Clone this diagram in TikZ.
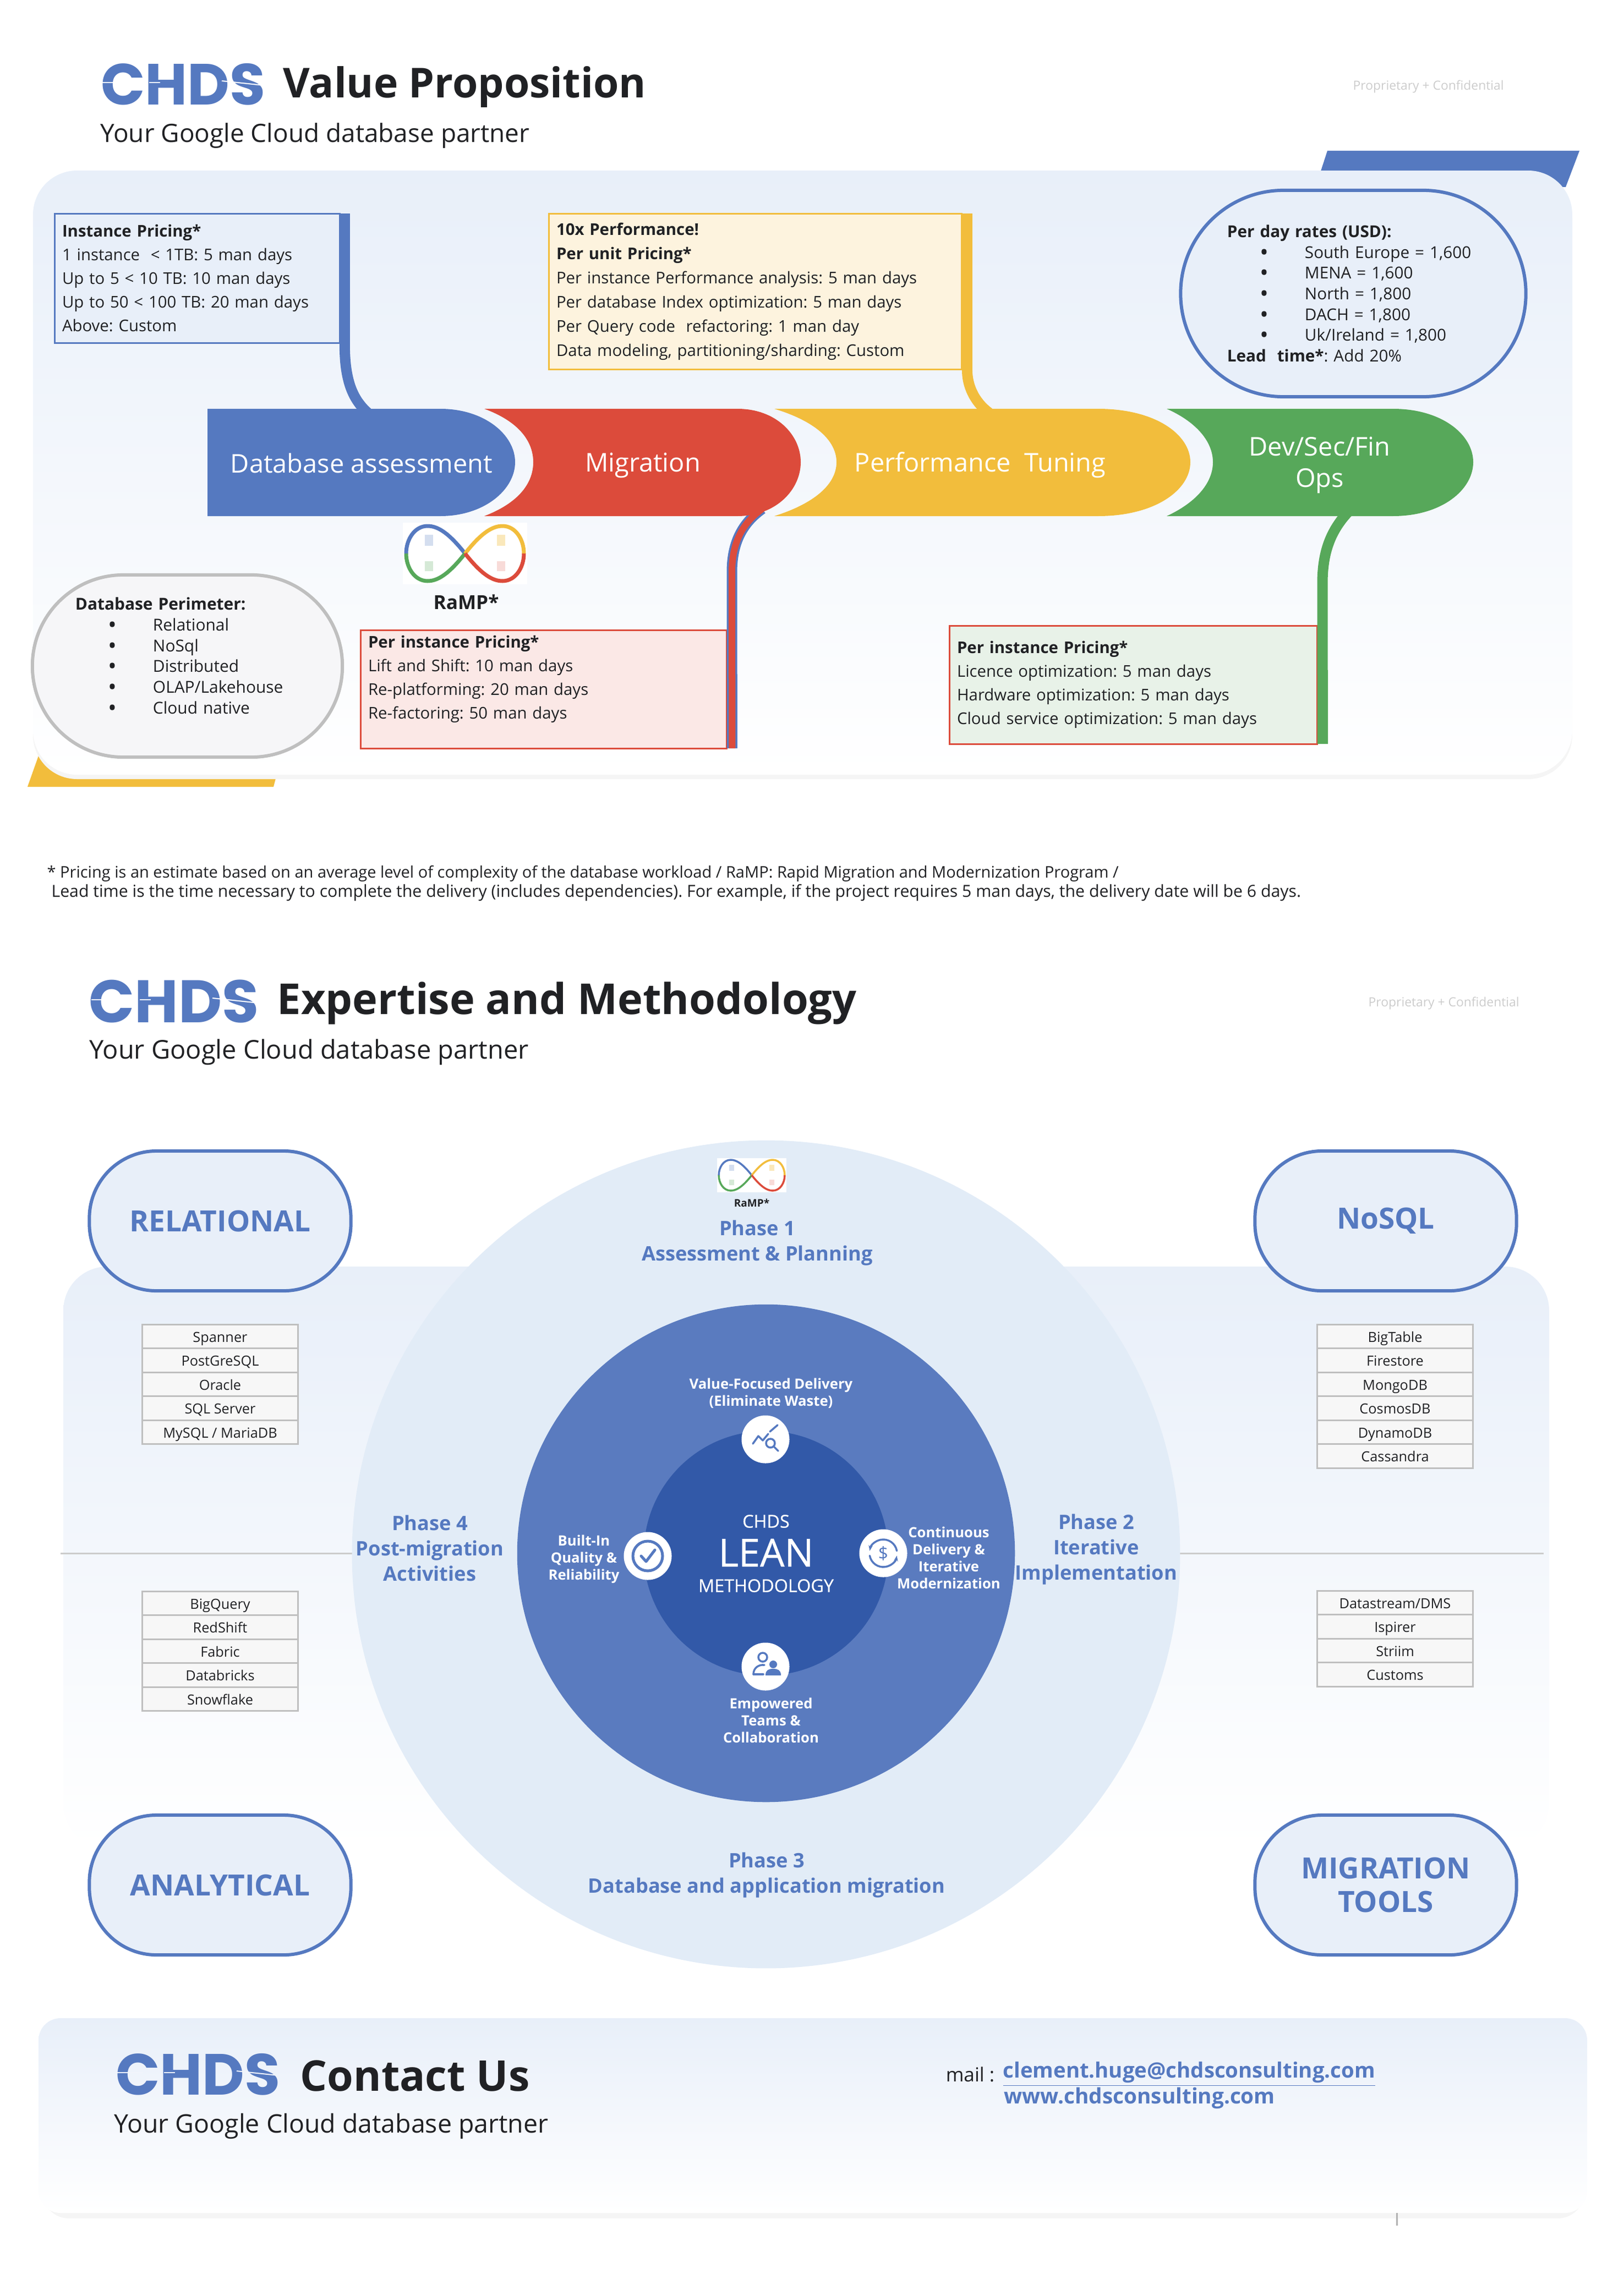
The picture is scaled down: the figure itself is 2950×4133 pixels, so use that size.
\documentclass[tikz,border=0pt]{standalone}
\usepackage{fontspec}
\setmainfont{Open Sans}
\newfontfamily\logofont{Poppins}
\newfontfamily\medfont[FakeBold=0.5]{Open Sans}
\usetikzlibrary{positioning,arrows.meta}
\definecolor{chblue}{HTML}{5579C0}
\definecolor{chred}{HTML}{DC4B3B}
\definecolor{chyellow}{HTML}{F2BD3C}
\definecolor{chgreen}{HTML}{57A85A}
\definecolor{inkdark}{HTML}{202124}
\definecolor{panelblue}{HTML}{E8EFF9}
\definecolor{perfill}{HTML}{FDF3DE}
\definecolor{migfill}{HTML}{FBE8E6}
\definecolor{devfill}{HTML}{E8F2E8}
\definecolor{perimfill}{HTML}{F6F6F8}
\definecolor{ringout}{HTML}{E2ECF7}
\definecolor{ringmid}{HTML}{5A7BBF}
\definecolor{ringin}{HTML}{3259A8}
\newcommand{\fs}[2]{\fontsize{#1}{#2}\selectfont}
\newcommand{\bul}[1]{\hspace*{.6cm}\makebox[.81cm][l]{\raisebox{-.25ex}{\fontsize{12}{10}\selectfont\textbullet}}#1}
\newcommand{\logocuts}[2]{%
  \draw[#2,line width=.02cm] ([shift={(-150,-3)}]#1.center) -- ++(50,0);
  \draw[#2,line width=.02cm] ([shift={(-62,-3)}]#1.center) -- ++(20,0);
  \draw[#2,line width=.02cm] ([shift={(70,-6)}]#1.center) -- ++(75,8);
}
\tikzset{
  panelshade/.style={top color=panelblue,bottom color=white,rounded corners=.8cm},
  logo/.style={font=\logofont\bfseries\fs{30}{30},text=chblue,inner sep=0},
  headline/.style={font=\bfseries\fs{#1}{#1},text=inkdark,inner sep=0,anchor=west},
  subline/.style={font=\fs{13.05}{15},text=inkdark,inner sep=0,anchor=west},
  conf/.style={font=\fs{6.5}{8},text=black!20,inner sep=0,anchor=west},
  pricebox/.style={anchor=north west,line width=.03cm,inner xsep=.14cm,inner ysep=0,outer sep=0,
    align=left,font=\fs{8.35}{12.2},text=inkdark},
  pill/.style={line width=.06cm,rounded corners=1.22cm,draw=chblue,fill=panelblue,
    minimum width=4.75cm,minimum height=2.54cm,align=center,text=chblue,inner sep=0,
    font=\bfseries\fs{15.1}{17.4}},
  tie/.style={line width=.19cm},
  chevtext/.style={text=white,font=\fs{13.35}{16.2},align=center,inner sep=0},
  cell/.style={draw=black!25,fill=black!3,line width=.03cm,minimum width=2.82cm,
    minimum height=.435cm,inner sep=0,font=\fs{7.2}{8},text=inkdark,text height=1.5ex,text depth=.4ex},
  phasetext/.style={text=chblue,font=\bfseries\fs{10.3}{13},align=center,inner sep=0},
  leantext/.style={text=white,font=\bfseries\fs{7.3}{8.8},align=center,inner sep=0},
  ico/.style={circle,fill=white,minimum size=.87cm,inner sep=0},
  icoline/.style={draw=chblue,line width=.035cm,line cap=round,line join=round},
  rampmark/.pic={
    \fill[white] (-113,-56) rectangle (113,56);
    \draw[chblue,line width=#1] (0,0) .. controls (-30,-38) and (-50,-50) .. (-68,-50)
      .. controls (-92,-50) and (-107,-25) .. (-107,0);
    \draw[chgreen,line width=#1] (-107,0) .. controls (-107,25) and (-92,50) .. (-68,50)
      .. controls (-50,50) and (-30,38) .. (0,0);
    \draw[chyellow,line width=#1] (0,0) .. controls (30,-38) and (50,-50) .. (68,-50)
      .. controls (92,-50) and (107,-25) .. (107,0);
    \draw[chred,line width=#1] (107,0) .. controls (107,25) and (92,50) .. (68,50)
      .. controls (50,50) and (30,38) .. (0,0);
    \fill[chblue!25] (-73,-34) rectangle (-58,-14);
    \fill[chgreen!25] (-73,14) rectangle (-58,32);
    \fill[chyellow!35] (58,-34) rectangle (73,-14);
    \fill[chred!20] (58,14) rectangle (73,32);
  },
}
\begin{document}
\frenchspacing
\begin{tikzpicture}[x=.01cm,y=-.01cm]
\useasboundingbox (0,0) rectangle (2950,4133);

% value proposition
\fill[chblue] (2397,320) -- (2412,274) -- (2870,274) -- (2845,340) -- cycle;
\fill[chyellow] (50,1430) -- (72,1368) -- (505,1400) -- (497,1430) -- cycle;
\fill[black!4,rounded corners=.8cm] (60,318) rectangle (2857,1416);
\shade[panelshade] (60,310) rectangle (2857,1408);

\node[logo] (logoA) at (333,153) {CHDS};
\logocuts{logoA}{white}
\node[headline=21.3] (titleA) at (514,158) {Value Proposition};
\node[subline] (subA) at (182,247) {Your Google Cloud database partner};
\node[conf] (confA) at (2458,158) {Proprietary + Confidential};

\node[pricebox,draw=chblue,fill=panelblue,minimum width=5.18cm,minimum height=2.35cm,text width=4.9cm] (inst) at (99,388)
  {\textbf{Instance Pricing*}\\1 instance\ \ < 1TB: 5 man days\\Up to 5 < 10 TB: 10 man days\\Up to 50 < 100 TB: 20 man days\\Above: Custom};
\node[pricebox,draw=chyellow,fill=perfill,minimum width=7.5cm,minimum height=2.83cm,text width=7.22cm,font=\fs{8.35}{12.5}] (perf) at (997,388)
  {\textbf{10x Performance!}\\\textbf{Per unit Pricing*}\\Per instance Performance analysis: 5 man days\\Per database Index optimization: 5 man days\\Per Query code\ \ refactoring: 1 man day\\Data modeling, partitioning/sharding: Custom};
\node[pricebox,draw=chred,fill=migfill,minimum width=6.65cm,minimum height=2.15cm,text width=6.37cm] (mig) at (655,1145)
  {\textbf{Per instance Pricing*}\\Lift and Shift: 10 man days\\Re-platforming: 20 man days\\Re-factoring: 50 man days\\ \mbox{}};
\node[pricebox,draw=chred,fill=devfill,minimum width=6.68cm,minimum height=2.15cm,text width=6.4cm] (dev) at (1725,1137)
  {\textbf{Per instance Pricing*}\\Licence optimization: 5 man days\\Hardware optimization: 5 man days\\Cloud service optimization: 5 man days};

\node[pill,rounded corners=1.87cm,minimum width=6.27cm,minimum height=3.75cm,text width=4.58cm,align=left,text=inkdark,font=\fs{8.45}{10.7}] (rates) at (2459,533.5)
  {\textbf{Per day rates (USD):}\\\bul{South Europe = 1,600}\\\bul{MENA = 1,600}\\\bul{North = 1,800}\\\bul{DACH = 1,800}\\\bul{Uk/Ireland = 1,800}\\\textbf{Lead\ \ time*}: Add 20\%};
\node[pill,draw=black!25,fill=perimfill,rounded corners=1.65cm,minimum width=5.63cm,minimum height=3.31cm,text width=4.07cm,align=left,text=inkdark,font=\fs{8.5}{10.7}] (perim) at (340.5,1210.5)
  {\textbf{Database Perimeter:}\\\bul{Relational}\\\bul{NoSql}\\\bul{Distributed}\\\bul{OLAP/Lakehouse}\\\bul{Cloud native}\\ \mbox{}};

\coordinate (assessTie) at (668,750);
\coordinate (perfTie) at (1797,750);
\coordinate (migTie) at (1385,925);
\coordinate (devTie) at (2455,925);
\draw[tie,chblue] ([xshift=.09cm]inst.north east) -- ([xshift=.09cm]inst.south east) .. controls (626,690) and (640,725) .. (assessTie);
\draw[tie,chyellow] ([xshift=.1cm]perf.north east) -- ([xshift=.1cm]perf.south east) .. controls (1757,700) and (1770,730) .. (perfTie);
\draw[tie,chblue] ([xshift=.1cm]mig.south east) -- (1330,1040) .. controls (1330,985) and (1350,950) .. (migTie);
\draw[line width=.12cm,chred] ([xshift=.1cm]mig.south east) -- (1330,1040) .. controls (1330,985) and (1350,950) .. (migTie);
\draw[tie,chgreen] ([xshift=.1cm]dev.south east) -- (2403,1060) .. controls (2403,1000) and (2420,960) .. (devTie);

\fill[chblue] (377,743) -- (800,743) .. controls (880,743) and (936,790) .. (936,840)
  .. controls (936,890) and (880,938) .. (800,938) -- (377,938) -- cycle;
\fill[chred] (880,743) -- (1340,743) .. controls (1410,743) and (1455,790) .. (1455,840)
  .. controls (1455,890) and (1410,938) .. (1340,938) -- (880,938)
  .. controls (940,915) and (969,880) .. (969,840) .. controls (969,800) and (940,765) .. (880,743) -- cycle;
\fill[chyellow] (1407,743) -- (1995,743) .. controls (2100,743) and (2163,790) .. (2163,840)
  .. controls (2163,890) and (2100,938) .. (1995,938) -- (1407,938)
  .. controls (1480,915) and (1520,880) .. (1520,840) .. controls (1520,800) and (1480,765) .. (1407,743) -- cycle;
\fill[chgreen] (2120,743) -- (2531,743) .. controls (2620,743) and (2677,790) .. (2677,840)
  .. controls (2677,890) and (2620,938) .. (2531,938) -- (2120,938)
  .. controls (2170,915) and (2204,880) .. (2204,840) .. controls (2204,800) and (2170,765) .. (2120,743) -- cycle;
\node[chevtext] (assess) at (657,842) {Database assessment};
\node[chevtext] (migrate) at (1168,846) {Migration};
\node[chevtext] (tune) at (1781,845) {Performance\ \ Tuning};
\node[chevtext] (devops) at (2398,845) {Dev/Sec/Fin\\Ops};

\pic[scale=1] (rampA) at (845,1006) {rampmark=.07cm};
\node[font=\bfseries\fs{10}{12},text=inkdark,inner sep=0] (rampTextA) at (847,1094) {RaMP*};

\node[font=\fs{8.25}{9.7},text=inkdark,inner sep=0,anchor=north west,align=left] (note) at (85,1573)
  {* Pricing is an estimate based on an average level of complexity of the database workload / RaMP: Rapid Migration and Modernization Program /\\
  \fs{8.6}{9.7}\ Lead time is the time necessary to complete the delivery (includes dependencies). For example, if the project requires 5 man days, the delivery date will be 6 days.};

% expertise
\node[logo,font=\logofont\bfseries\fs{31}{31}] (logoB) at (316,1820) {CHDS};
\logocuts{logoB}{white}
\node[headline=22] (titleB) at (503,1823) {Expertise and Methodology};
\node[subline,font=\fs{13.36}{15}] (subB) at (162,1912) {Your Google Cloud database partner};
\node[conf] (confB) at (2486,1823) {Proprietary + Confidential};

\shade[panelshade] (115,2302) rectangle (2815,3360);
\draw[black!20,line width=.03cm] (110,2823) -- (2805,2823);
\node[circle,fill=ringout,minimum size=15.04cm,inner sep=0] (ringO) at (1392,2825) {};
\node[circle,fill=ringmid,minimum size=9.04cm,inner sep=0] (ringM) at (1392,2823) {};
\node[circle,fill=ringin,minimum size=4.44cm,inner sep=0] (ringI) at (1392,2823) {};

\node[pill] (relational) at (400,2219) {RELATIONAL};
\node[pill] (nosql) at (2518,2219) {NoSQL};
\node[pill] (analytical) at (400,3426) {ANALYTICAL};
\node[pill] (tools) at (2518,3426) {MIGRATION\\TOOLS};

\foreach \name [count=\i] in {Spanner,PostGreSQL,Oracle,SQL Server,MySQL / MariaDB}
  \node[cell] (rel\i) at (400,{2429+(\i-1)*43.5}) {\name};
\foreach \name [count=\i] in {BigQuery,RedShift,Fabric,Databricks,Snowflake}
  \node[cell] (ana\i) at (400,{2914+(\i-1)*43.5}) {\name};
\foreach \name [count=\i] in {BigTable,Firestore,MongoDB,CosmosDB,DynamoDB,Cassandra}
  \node[cell] (nos\i) at (2535,{2429+(\i-1)*43.5}) {\name};
\foreach \name [count=\i] in {Datastream/DMS,Ispirer,Striim,Customs}
  \node[cell] (too\i) at (2535,{2913+(\i-1)*43.5}) {\name};

\pic[scale=.56] (rampB) at (1366,2136) {rampmark=.035cm};
\node[font=\bfseries\fs{5.4}{7},text=inkdark,inner sep=0] (rampTextB) at (1366,2186) {RaMP*};
\node[phasetext] (phaseA) at (1376,2259) {Phase 1\\Assessment \& Planning};
\node[phasetext] (phaseB) at (1992,2816) {Phase 2\\Iterative\\Implementation};
\node[phasetext] (phaseC) at (1393,3408) {Phase 3\\Database and application migration};
\node[phasetext] (phaseD) at (781,2814) {Phase 4\\Post-migration\\Activities};

\node[text=white,font=\medfont\fs{9.2}{10},inner sep=0] (leanA) at (1392,2765) {CHDS};
\node[text=white,font=\medfont\fs{20}{22},inner sep=0] (leanB) at (1392,2822) {LEAN};
\node[text=white,font=\medfont\fs{9.2}{10},inner sep=0] (leanC) at (1392,2882) {METHODOLOGY};
\node[leantext] (valueT) at (1401,2532) {Value-Focused Delivery\\(Eliminate Waste)};
\node[leantext] (qualT) at (1061,2834) {Built-In\\Quality \&\\Reliability};
\node[leantext] (contT) at (1724,2831) {Continuous\\Delivery \&\\Iterative\\Modernization};
\node[leantext] (teamT) at (1401,3127) {Empowered\\Teams \&\\Collaboration};

\node[ico] (icoTop) at (1391,2616) {};
\node[ico] (icoLeft) at (1177,2828) {};
\node[ico] (icoRight) at (1605,2823) {};
\node[ico] (icoBot) at (1391,3029) {};
\begin{scope}[shift={(icoTop)}]
  \draw[icoline] (-23,8) -- (-13,-6) -- (-5,2) -- (5,-10);
  \draw[icoline] (8,-14) -- (22,-26);
  \draw[icoline] (9,7) circle (8);
  \draw[icoline] (15,13) -- (23,21);
\end{scope}
\begin{scope}[shift={(icoLeft)}]
  \draw[icoline,line width=.05cm] (0,0) circle (27);
  \draw[icoline,line width=.05cm] (-12,0) -- (-3,10) -- (13,-11);
\end{scope}
\begin{scope}[shift={(icoRight)}]
  \draw[icoline,-{Stealth[length=.1cm]}] (170:25) arc (170:10:25);
  \draw[icoline,-{Stealth[length=.1cm]}] (-10:25) arc (-10:-170:25);
  \node[text=chblue,font=\fs{9}{9},inner sep=0] (icoDollar) at (0,0) {\$};
\end{scope}
\begin{scope}[shift={(icoBot)}]
  \draw[icoline] (-5,-17) circle (8);
  \draw[icoline] (-22,14) .. controls (-22,2) and (-12,-4) .. (-2,-3);
  \draw[icoline] (-22,14) -- (-4,14);
  \fill[chblue] (14,-4) circle (7);
  \fill[chblue] (0,16) .. controls (0,6) and (6,4) .. (14,4) .. controls (22,4) and (28,6) .. (28,16) -- cycle;
\end{scope}

% contact
\fill[black!4,rounded corners=.5cm] (76,3674) rectangle (2880,4032);
\shade[top color=panelblue,bottom color=white,rounded corners=.4cm] (70,3668) rectangle (2884,4022);
\draw[black!30,line width=.03cm] (2538,4022) -- (2538,4045);
\node[logo] (logoC) at (360,3770) {CHDS};
\logocuts{logoC}{panelblue!60}
\node[headline=21.9] (titleC) at (545,3773) {Contact Us};
\node[subline,font=\fs{13.2}{15}] (subC) at (207,3864) {Your Google Cloud database partner};
\node[font=\fs{10}{12},text=inkdark,inner sep=0,anchor=east] (mail) at (1808,3770) {mail :\ };
\node[font=\bfseries\fs{10.9}{12},text=chblue,inner sep=0,anchor=west] (mailTo) at (1822,3770) {\underline{clement.huge@chdsconsulting.com}};
\node[font=\bfseries\fs{11}{12},text=chblue,inner sep=0,anchor=west] (web) at (1824,3813) {www.chdsconsulting.com};
\end{tikzpicture}
\end{document}
